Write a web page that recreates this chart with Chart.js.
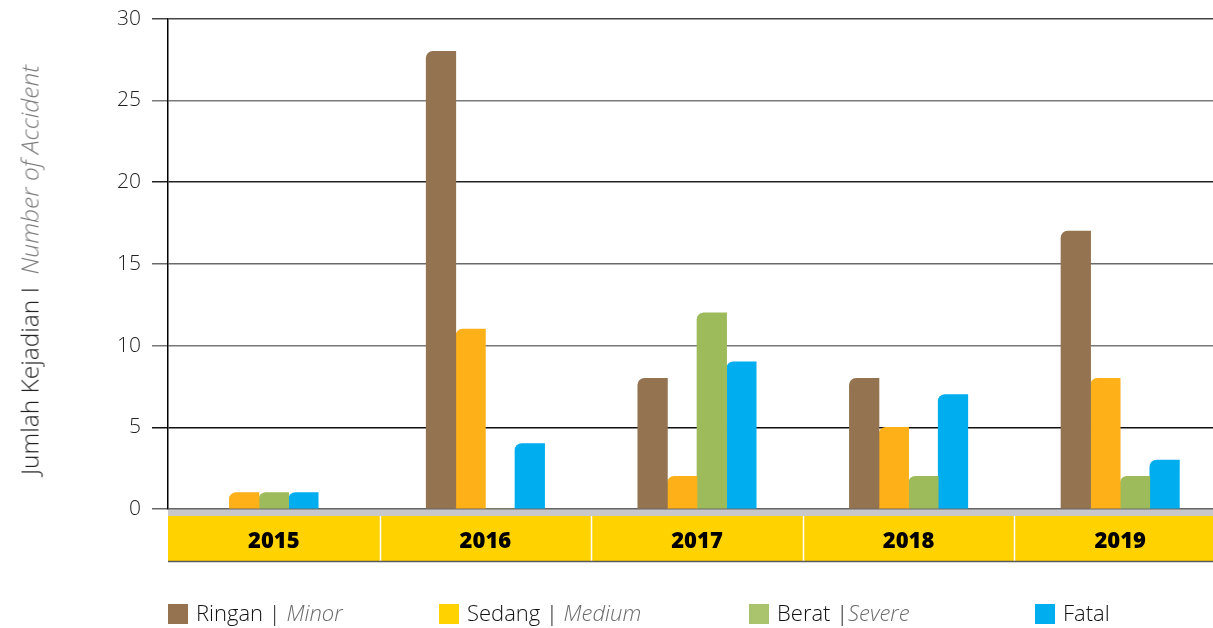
<!DOCTYPE html>
<html>
<head>
<meta charset="utf-8">
<script src="https://cdn.jsdelivr.net/npm/chart.js@4"></script>
<style>
    html, body { margin: 0; padding: 0; background: #fff; overflow: hidden; }
    #wrap { position: relative; width: 1213px; height: 628px; overflow: hidden; }
    #chartBox { position: absolute; left: 0; top: -5px; width: 1226px; height: 633px; }
    #yTitle {
        position: absolute; left: 29px; top: 270px;
        transform: translate(-50%, -50%) rotate(-90deg);
        white-space: nowrap; font-family: 'Open Sans', sans-serif; font-weight: 300;
        font-size: 24.5px; color: #222;
    }
    #yTitle i { color: #7a7a7a; }
    .leg { position: absolute; top: 599px; font-family: 'Open Sans', sans-serif; font-weight: 300;
        font-size: 22px; color: #111; white-space: nowrap; line-height: 26px; }
    .leg .sw { display: inline-block; width: 20px; height: 20px; vertical-align: -3px; margin-right: 8px; }
    .leg i { color: #6a6a6a; }
</style>
</head>
<body>
<div id="wrap">
    <div id="chartBox"><canvas id="accChart" width="1226" height="633"></canvas></div>
    <div id="yTitle">Jumlah Kejadian I&nbsp;&nbsp;<i>Number of Accident</i></div>
    <div id="legend"></div>
</div>
<script>
// Accident counts by severity, 2015-2019
const years = ['2015', '2016', '2017', '2018', '2019'];
const ringan = [null, 28, 8, 8, 17];   // no bar in 2015
const sedang = [1, 11, 2, 5, 8];
const berat = [1, 0, 12, 2, 2];
const fatal = [1, 4, 9, 7, 3];
const yTicks = [0, 5, 10, 15, 20, 25, 30];

const barColors = ['#937350', '#fdb018', '#9dbb5a', '#00aeef'];
const legendColors = ['#957350', '#ffd200', '#a9c46c', '#00aeef'];

// gridline shade per tick value (some lines are darker in the reference)
const gridShade = { 0: '#666', 5: '#111', 10: '#777', 15: '#6a6a6a', 20: '#222', 25: '#7a7a7a', 30: '#444' };

function barSet(label, data, color) {
    return {
        label: label,
        data: data,
        backgroundColor: color,
        borderWidth: 0,
        borderRadius: { topLeft: 7, topRight: 0, bottomLeft: 0, bottomRight: 0 },
        borderSkipped: false,
        barThickness: 29.6
    };
}

// yellow year band below the plot
const yearBand = {
    id: 'yearBand',
    beforeDraw(chart) {
        const ctx = chart.ctx;
        const area = chart.chartArea;
        const x = chart.scales.x;
        const b = area.bottom;
        ctx.save();
        ctx.fillStyle = '#c8c8ca';
        ctx.fillRect(area.left, b, area.right - area.left, 7);
        ctx.fillStyle = '#ffd200';
        ctx.fillRect(area.left, b + 7, area.right - area.left, 45);
        ctx.strokeStyle = '#ffffff';
        ctx.lineWidth = 1.5;
        for (let i = 0; i < years.length - 1; i++) {
            const px = Math.round((x.getPixelForValue(i) + x.getPixelForValue(i + 1)) / 2) + 0.5;
            ctx.beginPath();
            ctx.moveTo(px, b + 7);
            ctx.lineTo(px, b + 52);
            ctx.stroke();
        }
        ctx.strokeStyle = '#5a5a5a';
        ctx.lineWidth = 1.5;
        ctx.beginPath();
        ctx.moveTo(area.left, b + 52.5);
        ctx.lineTo(area.right, b + 52.5);
        ctx.stroke();
        ctx.restore();
    }
};

const ctx = document.getElementById('accChart').getContext('2d');
const accChart = new Chart(ctx, {
    type: 'bar',
    data: {
        labels: years,
        datasets: [
            barSet('Ringan | Minor', ringan, barColors[0]),
            barSet('Sedang | Medium', sedang, barColors[1]),
            barSet('Berat |Severe', berat, barColors[2]),
            barSet('Fatal', fatal, barColors[3])
        ]
    },
    options: {
        responsive: false,
        animation: false,
        skipNull: true,
        layout: { padding: { top: 13, right: 0, bottom: 66, left: 0 } },
        plugins: {
            legend: { display: false },
            tooltip: { enabled: false }
        },
        scales: {
            x: {
                grid: { display: false, drawTicks: false },
                border: { display: false },
                ticks: {
                    color: '#000',
                    padding: 20,
                    font: { family: 'Open Sans', size: 22, weight: '800' }
                },
                afterFit: function(scale) { scale.height = 53; }
            },
            y: {
                min: 0,
                max: 30,
                afterBuildTicks: function(scale) {
                    scale.ticks = yTicks.map(v => ({ value: v }));
                },
                grid: {
                    color: function(c) { return gridShade[c.tick.value] || '#666'; },
                    lineWidth: 1.5,
                    tickLength: 16
                },
                border: { display: true, color: '#000', width: 1.5 },
                ticks: {
                    color: '#222',
                    padding: 11,
                    font: { family: 'Open Sans', size: 21, weight: '300' }
                },
                afterFit: function(scale) { scale.width = 168; }
            }
        }
    },
    plugins: [yearBand]
});

// HTML legend (mixed upright / italic text)
const legendItems = [
    { left: 168, main: 'Ringan | ', alt: 'Minor' },
    { left: 439, main: 'Sedang | ', alt: 'Medium' },
    { left: 749, main: 'Berat |', alt: 'Severe' },
    { left: 1035, main: 'Fatal', alt: '' }
];
const legendBox = document.getElementById('legend');
legendItems.forEach((item, i) => {
    const el = document.createElement('div');
    el.className = 'leg';
    el.style.left = item.left + 'px';
    el.innerHTML = '<span class="sw" style="background:' + legendColors[i] + '"></span>' +
        item.main + (item.alt ? '<i>' + item.alt + '</i>' : '');
    legendBox.appendChild(el);
});
</script>
</body>
</html>
